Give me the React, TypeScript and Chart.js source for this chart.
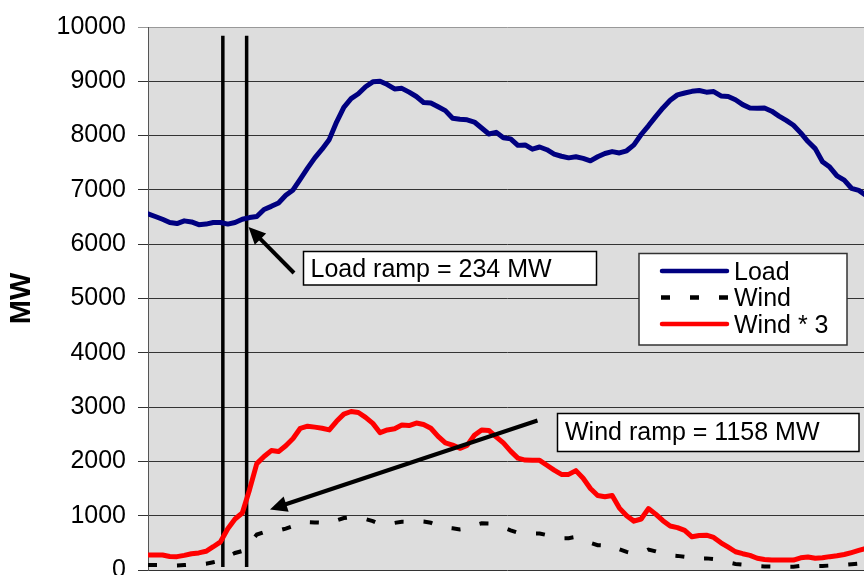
import React, { useEffect, useRef } from "react";
import { Chart, registerables } from "chart.js";

Chart.register(...registerables);

// Time of day in hours, 15-minute resolution
const hours: number[] = Array.from({ length: 100 }, (_, i) => i * 0.25);

// System load (MW)
const loadMW: number[] = [
  6560, 6510, 6460, 6400, 6380, 6430, 6410, 6360, 6370, 6400,
  6400, 6370, 6400, 6460, 6490, 6510, 6640, 6697, 6760, 6900,
  7000, 7200, 7400, 7590, 7750, 7930, 8250, 8520, 8680, 8770,
  8900, 8990, 9000, 8940, 8860, 8870, 8800, 8720, 8610, 8600,
  8530, 8460, 8320, 8300, 8290, 8250, 8140, 8030, 8060, 7960,
  7940, 7820, 7829, 7750, 7790, 7740, 7660, 7620, 7590, 7610,
  7580, 7535, 7610, 7670, 7705, 7680, 7720, 7830, 8020, 8180,
  8350, 8510, 8650, 8750, 8785, 8815, 8830, 8800, 8810, 8730,
  8720, 8660, 8570, 8510, 8505, 8510, 8450, 8360, 8280, 8190,
  8050, 7890, 7760, 7520, 7420, 7260, 7180, 7030, 6990, 6900,
];

// Wind generation (MW)
const windMW: number[] = [
  92, 92, 92, 83, 82, 90, 100, 105, 115, 143,
  173, 253, 313, 350, 493, 653, 697, 733, 727, 763,
  807, 870, 883, 877, 870, 860, 913, 957, 973, 967,
  937, 900, 843, 860, 867, 890, 887, 902, 893, 870,
  820, 780, 767, 747, 765, 827, 860, 857, 817, 780,
  730, 687, 675, 673, 673, 643, 613, 587, 587, 610,
  563, 500, 457, 450, 457, 380, 333, 300, 313, 377,
  343, 303, 270, 260, 243, 204, 212, 214, 200, 167,
  140, 112, 100, 90, 72, 65, 62, 61, 61, 61,
  75, 80, 72, 75, 82, 87, 95, 107, 120, 133,
];

// Wind scaled by 3 (as labelled in the chart)
const windTimes3: number[] = windMW.map((v) => v * 3);

const seriesLabels = ["Load", "Wind", "Wind * 3"];
const yTicks = { min: 0, max: 10000, step: 1000 };
const rampStartHour = 2.58;
const rampEndHour = 3.4;
const loadRampText = "Load ramp = 234 MW";
const windRampText = "Wind ramp = 1158 MW";

const FONT = "'Liberation Sans', Arial, Helvetica, sans-serif";

function drawArrow(ctx: CanvasRenderingContext2D, x1: number, y1: number, x2: number, y2: number) {
  const ang = Math.atan2(y2 - y1, x2 - x1);
  const len = 17;
  const hw = 8;
  const c = Math.cos(ang);
  const s = Math.sin(ang);
  const bx = x2 - len * c;
  const by = y2 - len * s;
  ctx.save();
  ctx.strokeStyle = "#000";
  ctx.fillStyle = "#000";
  ctx.lineWidth = 4;
  ctx.lineCap = "butt";
  ctx.beginPath();
  ctx.moveTo(x1, y1);
  ctx.lineTo(bx + 2 * c, by + 2 * s);
  ctx.stroke();
  ctx.beginPath();
  ctx.moveTo(x2, y2);
  ctx.lineTo(bx + hw * s, by - hw * c);
  ctx.lineTo(bx - hw * s, by + hw * c);
  ctx.closePath();
  ctx.fill();
  ctx.restore();
}

function drawTextBox(ctx: CanvasRenderingContext2D, l: number, t: number, r: number, b: number, text: string, tx: number, ty: number) {
  ctx.save();
  ctx.fillStyle = "#fff";
  ctx.fillRect(l, t, r - l, b - t);
  ctx.strokeStyle = "#000";
  ctx.lineWidth = 1.5;
  ctx.strokeRect(l, t, r - l, b - t);
  ctx.fillStyle = "#000";
  ctx.font = `25px ${FONT}`;
  ctx.textAlign = "left";
  ctx.textBaseline = "alphabetic";
  ctx.fillText(text, tx, ty);
  ctx.restore();
}

export default function App() {
  const ref = useRef<HTMLCanvasElement>(null);

  useEffect(() => {
    const canvas = ref.current;
    if (!canvas) return;

    const bgPlugin = {
      id: "plotBg",
      beforeDraw(chart: any) {
        const { ctx, chartArea } = chart;
        ctx.save();
        ctx.fillStyle = "#DDDDDD";
        ctx.fillRect(chartArea.left, chartArea.top, chartArea.right - chartArea.left, chartArea.bottom - chartArea.top);
        ctx.restore();
      },
    };

    const overlayPlugin = {
      id: "overlay",
      beforeDatasetsDraw(chart: any) {
        const { ctx, scales } = chart;
        const xs = scales.x;
        const ys = scales.y;
        ctx.save();
        ctx.strokeStyle = "#000";
        ctx.lineWidth = 3.5;
        [rampStartHour, rampEndHour].forEach((h) => {
          const x = xs.getPixelForValue(h);
          ctx.beginPath();
          ctx.moveTo(x, ys.getPixelForValue(9840));
          ctx.lineTo(x, ys.getPixelForValue(55));
          ctx.stroke();
        });
        ctx.restore();
      },
      afterDatasetsDraw(chart: any) {
        const { ctx } = chart;
        // Load ramp annotation
        drawArrow(ctx, 294, 273, 248.5, 227);
        drawTextBox(ctx, 303.5, 251.5, 596.5, 285, loadRampText, 310.5, 277);
        // Wind ramp annotation
        drawArrow(ctx, 537.5, 420.5, 270, 509.5);
        drawTextBox(ctx, 557.5, 413.5, 859, 451.5, windRampText, 565, 440);

        // Legend
        ctx.save();
        ctx.fillStyle = "#fff";
        ctx.fillRect(639, 253.5, 208, 91.5);
        ctx.strokeStyle = "#333";
        ctx.lineWidth = 1.5;
        ctx.strokeRect(639, 253.5, 208, 91.5);
        const rows = [
          { y: 271, color: "#000080", dash: [] as number[], cap: "round" as CanvasLineCap, tb: 279.5 },
          { y: 297.5, color: "#000", dash: [9, 20], cap: "butt" as CanvasLineCap, tb: 306 },
          { y: 324, color: "#FF0000", dash: [] as number[], cap: "round" as CanvasLineCap, tb: 332.5 },
        ];
        rows.forEach((r, i) => {
          ctx.beginPath();
          ctx.setLineDash(r.dash);
          ctx.lineCap = r.cap;
          ctx.strokeStyle = r.color;
          ctx.lineWidth = 4.5;
          if (i === 1) {
            ctx.moveTo(661, r.y);
            ctx.lineTo(729, r.y);
          } else {
            ctx.moveTo(662, r.y);
            ctx.lineTo(727, r.y);
          }
          ctx.stroke();
          ctx.setLineDash([]);
          ctx.fillStyle = "#000";
          ctx.font = `25px ${FONT}`;
          ctx.textAlign = "left";
          ctx.textBaseline = "alphabetic";
          ctx.fillText(seriesLabels[i], 734, r.tb);
        });
        ctx.restore();
      },
    };

    const toPoints = (vals: number[]) => hours.map((h, i) => ({ x: h, y: vals[i] }));

    const chart = new Chart(canvas, {
      type: "line",
      data: {
        datasets: [
          {
            label: seriesLabels[0],
            data: toPoints(loadMW),
            borderColor: "#000080",
            borderWidth: 5,
            pointRadius: 0,
            tension: 0,
            borderJoinStyle: "round",
            borderCapStyle: "round",
          },
          {
            label: seriesLabels[1],
            data: toPoints(windMW),
            borderColor: "#000000",
            borderWidth: 4,
            borderDash: [9, 20],
            pointRadius: 0,
            tension: 0,
          },
          {
            label: seriesLabels[2],
            data: toPoints(windTimes3),
            borderColor: "#FF0000",
            borderWidth: 5,
            pointRadius: 0,
            tension: 0,
            borderJoinStyle: "round",
            borderCapStyle: "round",
          },
        ],
      },
      options: {
        responsive: false,
        animation: false,
        devicePixelRatio: 1,
        layout: { padding: { left: 0, top: 25, right: 14, bottom: 30 } },
        plugins: {
          legend: { display: false },
          tooltip: { enabled: false },
        },
        scales: {
          x: { type: "linear", min: 0, max: 24.75, display: false },
          y: {
            min: yTicks.min,
            max: yTicks.max,
            ticks: {
              stepSize: yTicks.step,
              color: "#000",
              font: { family: FONT, size: 25 },
              padding: 12,
              callback: (v: any) => String(v),
            },
            grid: {
              color: (c: any) => (c.tick && c.tick.value === yTicks.max ? "#999999" : "#333333"),
              lineWidth: 1,
              tickLength: 10,
            },
            border: { color: "#555555", width: 1 },
            title: {
              display: true,
              text: "MW",
              color: "#000",
              font: { family: FONT, size: 29, weight: "bold" },
              padding: { top: 5, bottom: 0 },
            },
            afterFit(scale: any) {
              scale.width = 148;
            },
          },
        },
      } as any,
      plugins: [bgPlugin, overlayPlugin],
    });

    return () => chart.destroy();
  }, []);

  return (
    <div
      style={{
        position: "fixed",
        left: 0,
        top: 0,
        width: 864,
        height: 575,
        overflow: "hidden",
        background: "#fff",
      }}
    >
      <canvas ref={ref} width={880} height={600} style={{ display: "block" }} />
    </div>
  );
}
